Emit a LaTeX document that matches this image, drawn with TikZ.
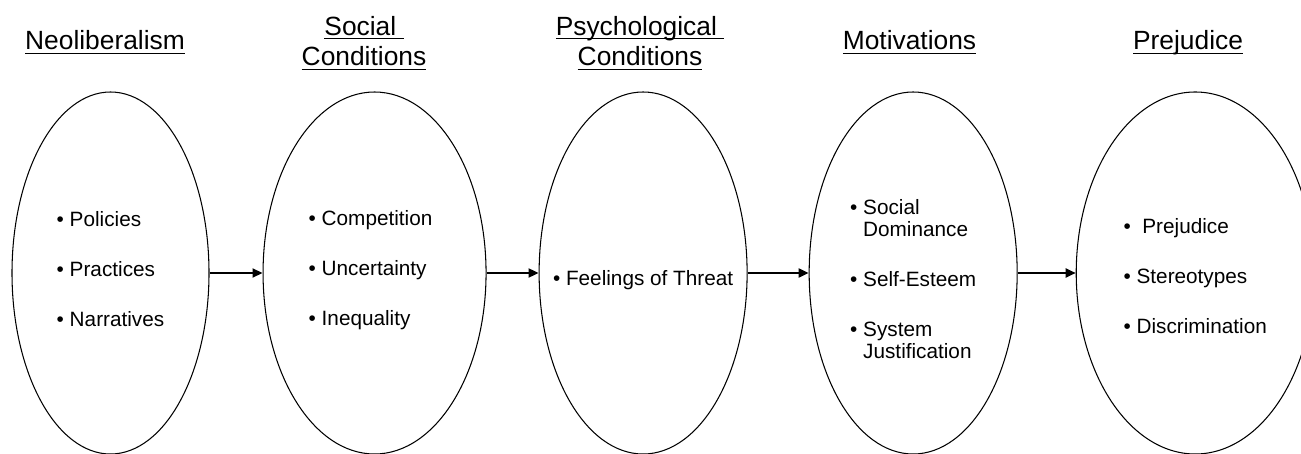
\documentclass[tikz,border=0pt]{standalone}
\usepackage{fontspec}
\setmainfont{Liberation Sans}
\usepackage{tikz}
\usetikzlibrary{shapes.geometric,arrows.meta,positioning}

\newcommand{\undl}[1]{\setbox0\hbox{#1}\rlap{\rule[-2.3pt]{\wd0}{0.8pt}}\box0}
\newcommand{\hang}{\phantom{•~}}

\begin{document}
\begin{tikzpicture}[
    stage/.style={ellipse, draw, line width=0.6pt, minimum height=7.24cm, inner sep=0pt},
    list/.style={align=left, inner sep=0pt, font=\fontsize{11.8pt}{12.5pt}\selectfont},
    heading/.style={anchor=base, align=center, font=\fontsize{15pt}{17.6pt}\selectfont},
    arrow/.style={line width=1.1pt,-{Triangle[length=0.2cm,width=0.18cm]}}
]
    \useasboundingbox (0,0) rectangle (26.02,9.06);

    % Stages
    \node[stage, minimum width=3.94cm] (neo) at (2.21,3.60) {};
    \node[stage, minimum width=4.46cm, right=1.06cm of neo] (social) {};
    \node[stage, minimum width=4.16cm, right=1.04cm of social] (psych) {};
    \node[stage, minimum width=4.16cm, right=1.22cm of psych] (motiv) {};
    \node[stage, minimum width=4.76cm, right=1.16cm of motiv] (prej) {};

    % Lists inside the stages
    \node[list, yshift=0.08cm] (neo-list) at (neo) {•~Policies\\[0.56cm]•~Practices\\[0.56cm]•~Narratives};
    \node[list, yshift=0.05cm, xshift=-0.08cm] (social-list) at (social) {•~Competition\\[0.56cm]•~Uncertainty\\[0.56cm]•~Inequality};
    \node[list, yshift=-0.14cm] (psych-list) at (psych) {•~Feelings of Threat};
    \node[list, yshift=-0.12cm] (motiv-list) at (motiv) {•~Social\\\hang Dominance\\[0.56cm]•~Self-Esteem\\[0.56cm]•~System\\\hang Justification};
    \node[list, yshift=-0.06cm] (prej-list) at (prej) {•~~Prejudice\\[0.56cm]•~Stereotypes\\[0.56cm]•~Discrimination};

    % Headings
    \node[heading] (tneo) at (2.10,8.06) {\undl{Neoliberalism}};
    \node[heading] (tsocial) at (7.28,7.74) {\undl{Social\ }\\\undl{Conditions}};
    \node[heading] (tpsych) at (12.80,7.74) {\undl{Psychological\ }\\\undl{Conditions}};
    \node[heading] (tmotiv) at (18.19,8.06) {\undl{Motivations}};
    \node[heading] (tprej) at (23.76,8.06) {\undl{Prejudice}};

    % Arrows
    \draw[arrow] (neo) -- (social);
    \draw[arrow] (social) -- (psych);
    \draw[arrow] (psych) -- (motiv);
    \draw[arrow] (motiv) -- (prej);
\end{tikzpicture}
\end{document}
